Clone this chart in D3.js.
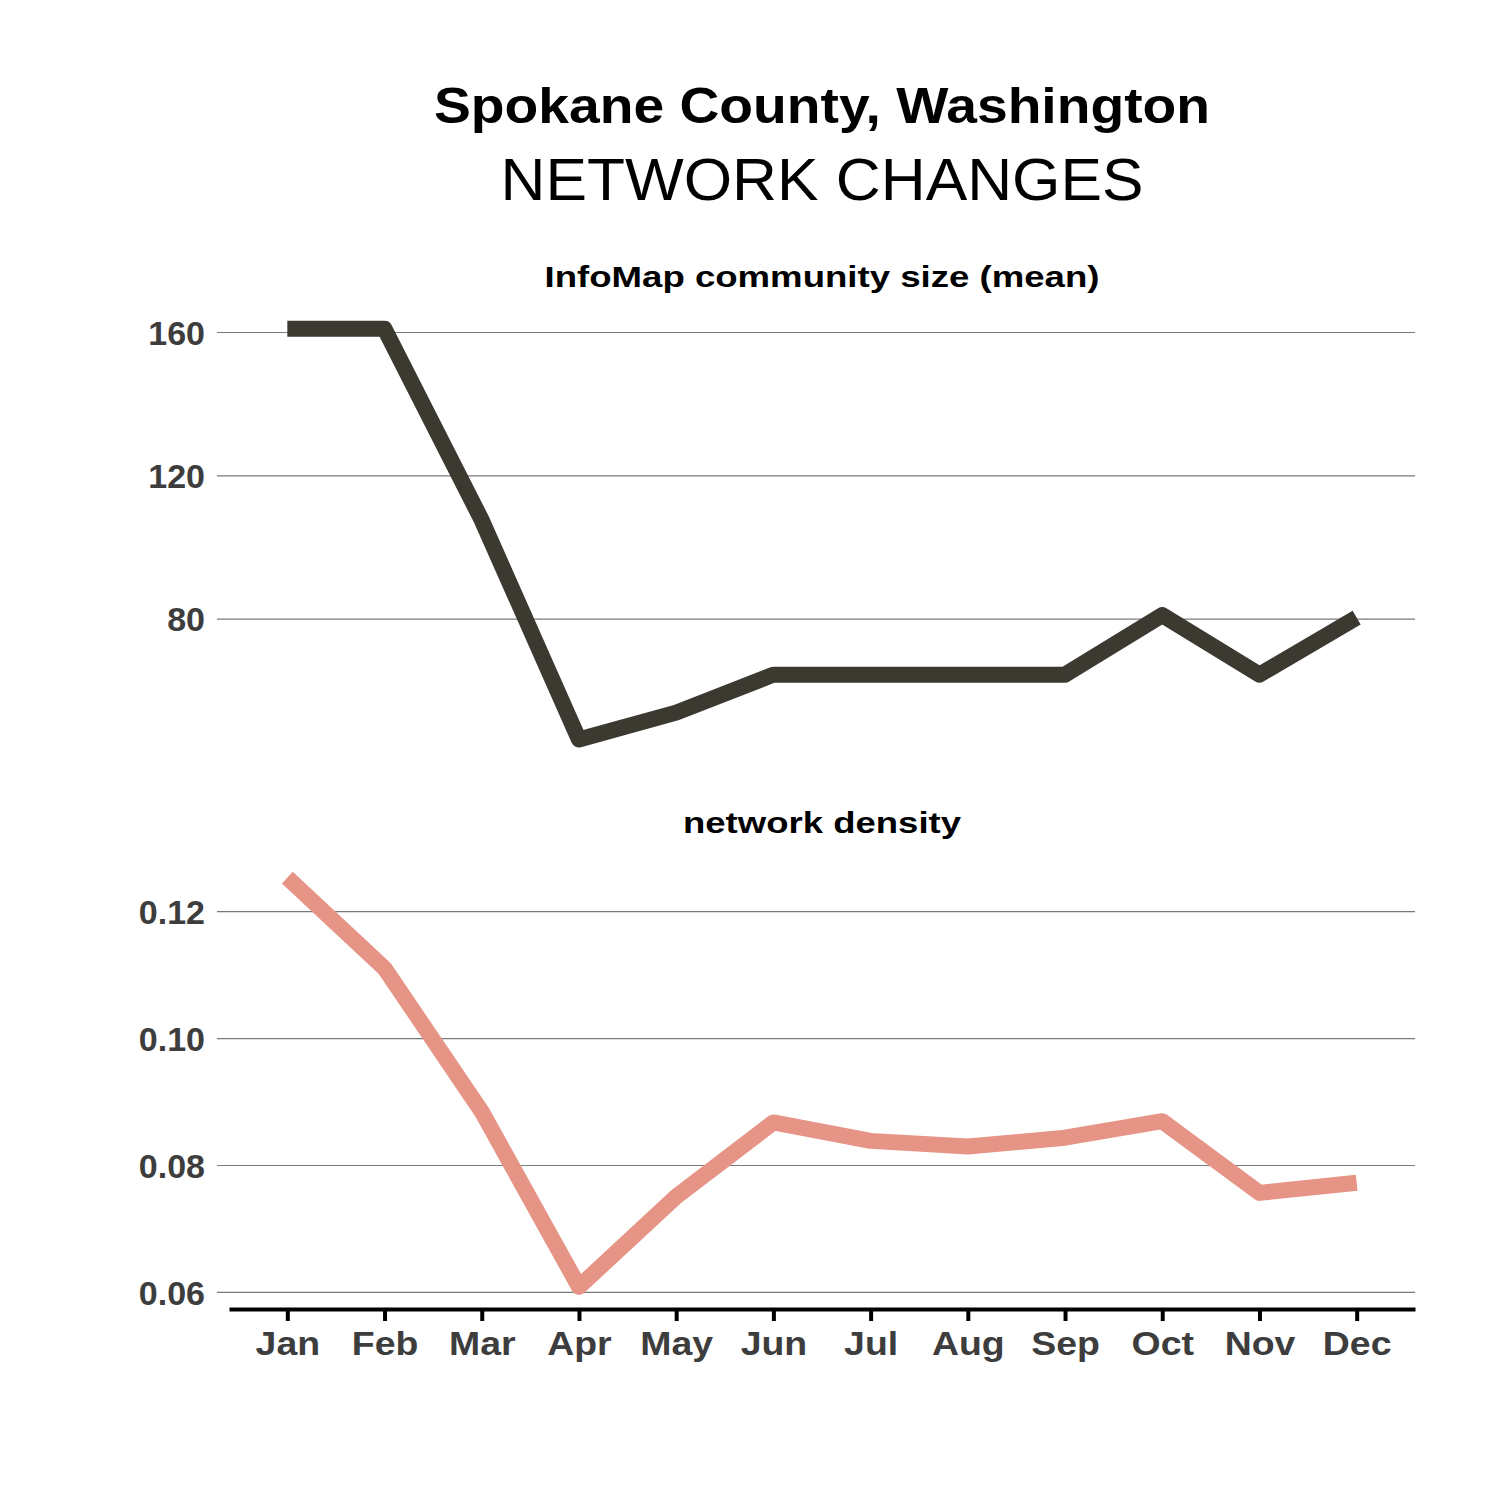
<!DOCTYPE html>
<html>
<head>
<meta charset="utf-8">
<script src="https://cdn.jsdelivr.net/npm/d3@7"></script>
<style>
  body { margin: 0; background: #fff; }
  text { font-family: "Liberation Sans", Arial, sans-serif; }
</style>
</head>
<body>
<script>
// data
var months = ["Jan","Feb","Mar","Apr","May","Jun","Jul","Aug","Sep","Oct","Nov","Dec"];
var communitySize = [160.9, 160.9, 107.5, 46.3, 53.8, 64.4, 64.4, 64.4, 64.4, 81.0, 64.4, 80.3];
var density = [0.1253, 0.1110, 0.0884, 0.0608, 0.0750, 0.0867, 0.0838, 0.0829, 0.0843, 0.0869, 0.0756, 0.0772];
var sizeTicks = [80, 120, 160];
var densityTicks = [0.06, 0.08, 0.10, 0.12];

var width = 1500, height = 1500;
var left = 229, right = 1415;

var svg = d3.select("body").append("svg")
  .attr("width", width)
  .attr("height", height);

// titles (reference font is wider, so stretch to its width)
svg.append("text")
  .attr("x", 822).attr("y", 123)
  .attr("text-anchor", "middle")
  .attr("font-size", 50).attr("font-weight", "bold")
  .attr("textLength", 776).attr("lengthAdjust", "spacingAndGlyphs")
  .text("Spokane County, Washington");
svg.append("text")
  .attr("x", 822).attr("y", 200)
  .attr("text-anchor", "middle")
  .attr("font-size", 59)
  .attr("textLength", 643).attr("lengthAdjust", "spacingAndGlyphs")
  .text("NETWORK CHANGES");

var x = d3.scalePoint()
  .domain(months)
  .range([left, right])
  .padding(0.6);

var panels = [
  {title: "InfoMap community size (mean)", titleW: 555, values: communitySize, ticks: sizeTicks,
   domain: [40.3, 166.7], top: 308, bottom: 761, color: "#3b3930", fmt: d3.format("d"), titleY: 287},
  {title: "network density", titleW: 278, values: density, ticks: densityTicks,
   domain: [0.0573, 0.1287], top: 856, bottom: 1309, color: "#e69486", fmt: d3.format(".2f"), titleY: 833}
];

panels.forEach(function(p){
  var y = d3.scaleLinear().domain(p.domain).range([p.bottom, p.top]);
  var g = svg.append("g");

  g.append("text")
    .attr("x", (left + right) / 2).attr("y", p.titleY)
    .attr("text-anchor", "middle")
    .attr("font-size", 30).attr("font-weight", "bold")
    .attr("textLength", p.titleW).attr("lengthAdjust", "spacingAndGlyphs")
    .text(p.title);

  // gridlines with the ticks drawn into them
  var yAxis = d3.axisLeft(y)
    .tickValues(p.ticks)
    .tickSize(-(right - left))
    .tickSizeOuter(0)
    .tickPadding(12)
    .tickFormat(p.fmt);

  var ay = g.append("g")
    .attr("transform", "translate(" + left + ",0)")
    .call(yAxis);
  ay.select(".domain").remove();
  ay.selectAll(".tick line")
    .attr("x1", -12)
    .attr("stroke", "#7a7a7a").attr("stroke-width", 1.2);
  ay.selectAll(".tick text")
    .attr("x", -24)
    .attr("font-size", 34).attr("font-weight", "bold")
    .attr("fill", "#3d3d3d")
    .attr("dy", "0.36em");

  var line = d3.line()
    .x(function(d, i){ return x(months[i]); })
    .y(function(d){ return y(d); });

  g.append("path")
    .datum(p.values)
    .attr("d", line)
    .attr("fill", "none")
    .attr("stroke", p.color)
    .attr("stroke-width", 16)
    .attr("stroke-linejoin", "round")
    .attr("stroke-linecap", "butt");
});

// bottom axis
var xAxis = d3.axisBottom(x).tickSize(12).tickSizeOuter(0).tickPadding(10);
var ax = svg.append("g")
  .attr("transform", "translate(0,1309)")
  .call(xAxis);
ax.select(".domain").attr("stroke", "#000").attr("stroke-width", 4);
ax.selectAll(".tick line").attr("stroke", "#000").attr("stroke-width", 4);
ax.selectAll(".tick text")
  .attr("font-size", 34).attr("font-weight", "bold")
  .attr("fill", "#3d3d3d")
  .attr("transform", "scale(1.1,1)");
</script>
</body>
</html>
